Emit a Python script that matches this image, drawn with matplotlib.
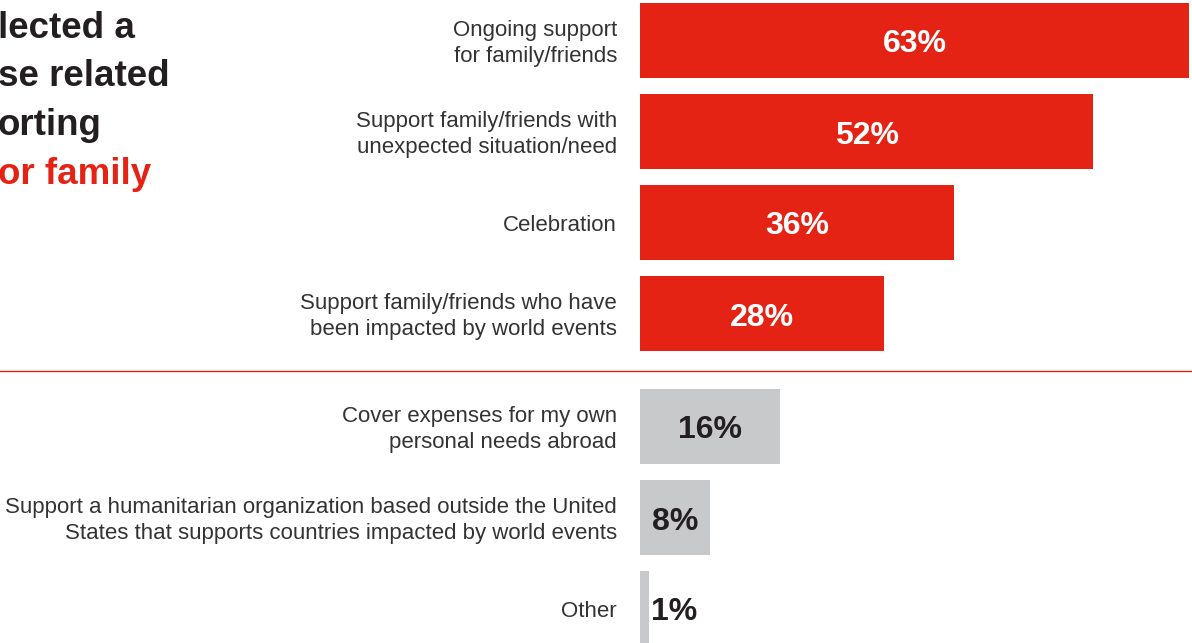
import matplotlib.pyplot as plt
from matplotlib.lines import Line2D

plt.rcParams['font.family'] = ['Liberation Sans', 'DejaVu Sans']

labels = [
    "Ongoing support\nfor family/friends",
    "Support family/friends with\nunexpected situation/need",
    "Celebration",
    "Support family/friends who have\nbeen impacted by world events",
    "Cover expenses for my own\npersonal needs abroad",
    "Support a humanitarian organization based outside the United\nStates that supports countries impacted by world events",
    "Other",
]
values = [63, 52, 36, 28, 16, 8, 1]
family_related = [True, True, True, True, False, False, False]

title_lines = ["lected a", "se related", "orting", "or family"]
title_colors = ["#231f20", "#231f20", "#231f20", "#e42315"]

RED = "#e42315"
GRAY = "#c8c9cb"
DARK = "#231f20"

W, H = 1192, 643
fig = plt.figure(figsize=(W / 100, H / 100), dpi=100)

# bar area: starts at x=640 px, ~8.72 px per percent
x0 = 640
ax = fig.add_axes([x0 / W, 0, 1 - x0 / W, 1])
ax.set_xlim(0, (W - x0) / 8.72)
ax.set_ylim(H, 0)
ax.axis("off")

pitch, gap, first = 91, 22, 40.5
ys = [first + i * pitch + (gap if not fam else 0) for i, fam in enumerate(family_related)]

for y, v, lab, fam in zip(ys, values, labels, family_related):
    color = RED if fam else GRAY
    ax.barh(y, v, height=75, color=color, edgecolor="none")
    txt_color = "white" if fam else DARK
    if v >= 5:
        ax.text(v / 2, y + 4, f"{v}%", ha="center", va="center",
                fontsize=23, fontweight="bold", color=txt_color)
    else:
        ax.text(v + 0.3, y + 4, f"{v}%", ha="left", va="center",
                fontsize=23, fontweight="bold", color=DARK)
    fig.text(617 / W, 1 - (y + 3) / H, lab, ha="right", va="center",
             fontsize=16, color="#333333", linespacing=1.28)

# divider between groups
fig.add_artist(Line2D([0, 1], [1 - 371 / H] * 2, color=RED, lw=1.0,
                      transform=fig.transFigure))

# title (cut off at the left edge)
for i, (t, c) in enumerate(zip(title_lines, title_colors)):
    fig.text(-2 / W, 1 - (38 + i * 48.5) / H, t, ha="left", va="baseline",
             fontsize=26.5, fontweight="bold", color=c)

fig.savefig("out.png", dpi=100)
